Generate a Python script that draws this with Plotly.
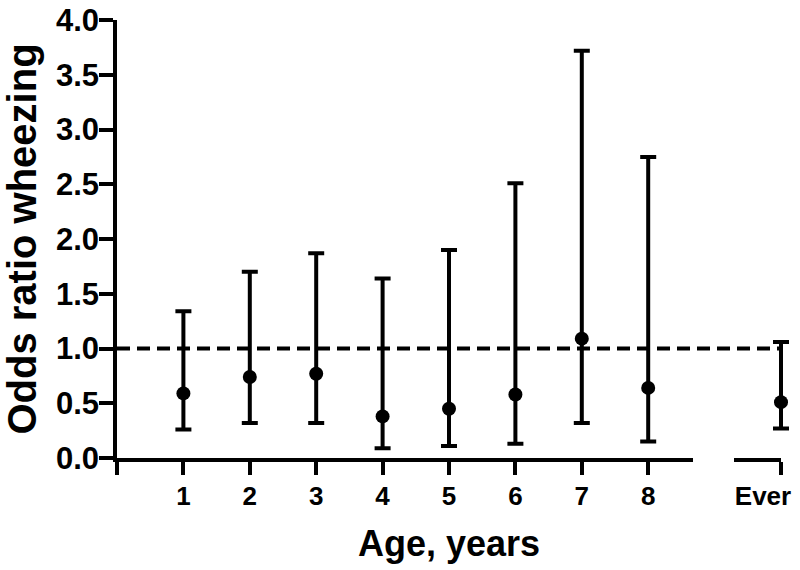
import plotly.graph_objects as go

# Data
ages = [1, 2, 3, 4, 5, 6, 7, 8]
age_labels = ["1", "2", "3", "4", "5", "6", "7", "8"]
odds_ratio = [0.59, 0.74, 0.77, 0.38, 0.45, 0.58, 1.09, 0.64]
ci_upper = [1.34, 1.70, 1.87, 1.64, 1.90, 2.51, 3.72, 2.75]
ci_lower = [0.26, 0.32, 0.32, 0.09, 0.11, 0.13, 0.32, 0.15]

ever_label = ["Ever"]
ever_pos = [10]
ever_or = [0.51]
ever_upper = [1.06]
ever_lower = [0.27]

y_ticks = [0.0, 0.5, 1.0, 1.5, 2.0, 2.5, 3.0, 3.5, 4.0]
y_tick_text = ["0.0", "0.5", "1.0", "1.5", "2.0", "2.5", "3.0", "3.5", "4.0"]
y_range = [0.0, 4.0]
reference_or = 1.0

FONT = "Liberation Sans, Arial, sans-serif"

# geometry (pixels): plot area from x=117 to x=795
L, R_MARGIN, W = 117, 5, 800
PW = W - L - R_MARGIN          # 678
UNIT = 66.4                    # px per category step
seg1_end = 576                 # px from left edge of plot area
seg2_start, seg2_end = 617, 664

def err(vals, up, lo):
    return dict(
        type="data", symmetric=False,
        array=[u - v for u, v in zip(up, vals)],
        arrayminus=[v - l for v, l in zip(vals, lo)],
        color="black", thickness=4, width=8,
    )

fig = go.Figure()
fig.add_trace(go.Scatter(
    x=ages, y=odds_ratio, mode="markers",
    marker=dict(color="black", size=14),
    error_y=err(odds_ratio, ci_upper, ci_lower),
    cliponaxis=False, xaxis="x", yaxis="y", showlegend=False,
))
# invisible anchor trace so the broken "Ever" axis segment is drawn
fig.add_trace(go.Scatter(
    x=ever_pos, y=ever_or, mode="markers",
    marker=dict(color="black", size=1, opacity=0),
    hoverinfo="skip", xaxis="x2", yaxis="y", showlegend=False,
))
fig.add_trace(go.Scatter(
    x=ever_pos, y=ever_or, mode="markers",
    marker=dict(color="black", size=14),
    error_y=err(ever_or, ever_upper, ever_lower),
    cliponaxis=False, xaxis="x3", yaxis="y", showlegend=False,
))

# reference line at OR = 1 spanning both axis segments
ref_frac = (reference_or - y_range[0]) / (y_range[1] - y_range[0])
fig.add_shape(type="line", xref="paper", yref="paper", x0=0, x1=seg2_end / PW,
              y0=ref_frac, y1=ref_frac,
              line=dict(color="black", width=4, dash="13px,7px"), layer="below")

axis_common = dict(
    showline=True, linecolor="black", linewidth=3.5,
    ticks="outside", ticklen=13, tickwidth=3.5, tickcolor="black",
    showgrid=False, zeroline=False, automargin=False,
    tickfont=dict(family=FONT, size=26, color="black", weight="bold"),
)

x2_lo = 10 - (seg2_end - seg2_start) / UNIT
fig.update_layout(
    width=W, height=570,
    paper_bgcolor="white", plot_bgcolor="rgba(0,0,0,0)",
    margin=dict(l=L, r=R_MARGIN, t=20, b=112),
    font=dict(family=FONT, color="black"),
    xaxis=dict(
        domain=[0, seg1_end / PW], range=[0, seg1_end / UNIT],
        tickvals=[0] + ages, ticktext=[""] + age_labels,
        anchor="y", ticklabelstandoff=-1,
        **axis_common,
    ),
    xaxis2=dict(
        domain=[seg2_start / PW, seg2_end / PW], range=[x2_lo, 10],
        tickvals=ever_pos, ticktext=ever_label,
        anchor="y", ticklabelstandoff=-1, ticklabelshift=-18,
        **axis_common,
    ),
    xaxis3=dict(
        domain=[seg2_start / PW, 1], range=[x2_lo, x2_lo + (PW - seg2_start) / UNIT],
        anchor="y", visible=False, showgrid=False, zeroline=False,
    ),
    yaxis=dict(
        range=y_range, tickvals=y_ticks, ticktext=y_tick_text,
        showline=True, linecolor="black", linewidth=3.5,
        ticks="outside", ticklen=14, tickwidth=3.5, tickcolor="black",
        showgrid=False, zeroline=False, automargin=False,
        ticklabelstandoff=-6,
        tickfont=dict(family=FONT, size=31, color="black", weight="bold"),
        title=dict(text="Odds ratio wheezing", standoff=10,
                   font=dict(family=FONT, size=40, color="black", weight="bold")),
    ),
)

fig.add_annotation(
    text="Age, years", xref="paper", yref="paper", x=(449 - L) / PW, y=0,
    yshift=-85, showarrow=False, xanchor="center", yanchor="middle",
    font=dict(family=FONT, size=36, color="black", weight="bold"),
)

fig.write_html("out.html", config={"displayModeBar": False},
               post_script="document.body.style.margin='0';")
